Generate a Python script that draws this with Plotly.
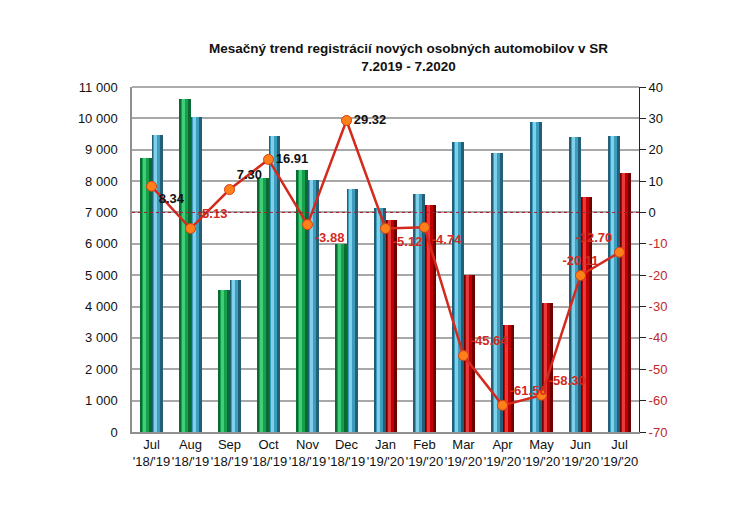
import plotly.graph_objects as go

months = ["Jul<br>'18/'19", "Aug<br>'18/'19", "Sep<br>'18/'19", "Oct<br>'18/'19",
          "Nov<br>'18/'19", "Dec<br>'18/'19", "Jan<br>'19/'20", "Feb<br>'19/'20",
          "Mar<br>'19/'20", "Apr<br>'19/'20", "May<br>'19/'20", "Jun<br>'19/'20",
          "Jul<br>'19/'20"]

# previous year (green) Jul-Dec 2018
prev_months = months[:6]
prev_vals = [8740, 10620, 4530, 8110, 8360, 5990]
# middle year (blue)
mid_vals = [9470, 10050, 4850, 9450, 8040, 7740, 7130, 7590, 9240, 8910, 9900, 9400, 9450]
# current year (red) Jan-Jul 2020
cur_months = months[6:]
cur_vals = [6760, 7240, 5010, 3410, 4120, 7500, 8250]

# year-on-year change in %
pct = [8.34, -5.13, 7.30, 16.91, -3.88, 29.32, -5.12, -4.74, -45.64, -61.50, -58.30, -20.11, -12.70]
pct_labels = ["8.34", "-5.13", "7.30", "16.91", "-3.88", "29.32", "-5.12", "-4.74",
              "-45.64", "-61.50", "-58.30", "-20.11", "-12.70"]

left_ticks = list(range(0, 12000, 1000))
right_ticks = list(range(-70, 50, 10))

# label placement (style)
label_pos = ["bottom right", "top right", "top right", "middle right", "bottom right",
             "middle right", "bottom right", "bottom right", "top right", "top right",
             "top right", "top center", "top left"]

RED = "#d42a1e"
W = 0.29

fig = go.Figure()


def cyl(x, y, offset, width, dark, mid, light):
    offs = offset if isinstance(offset, list) else [offset] * len(x)
    fig.add_trace(go.Bar(x=x, y=y, offset=offs, width=width, marker_color=dark,
                         marker_line_width=0, hoverinfo="skip", showlegend=False))
    fig.add_trace(go.Bar(x=x, y=y, offset=[o + width * 0.15 for o in offs], width=width * 0.62,
                         marker_color=mid, marker_line_width=0, hoverinfo="skip", showlegend=False))
    fig.add_trace(go.Bar(x=x, y=y, offset=[o + width * 0.25 for o in offs], width=width * 0.22,
                         marker_color=light, marker_line_width=0, hoverinfo="skip", showlegend=False))


cyl(prev_months, prev_vals, -W, W, "#0b6a33", "#16a04c", "#3fcf78")
cyl(months, mid_vals, [0.0] * 6 + [-W] * 7, W, "#245f78", "#3e9dbd", "#7fd0ea")
cyl(cur_months, cur_vals, 0.0, W, "#6e0000", "#c00000", "#e83a3a")

# zero line of the percentage axis
fig.add_shape(type="line", xref="paper", x0=0, x1=1, yref="y2", y0=0, y1=0,
              line=dict(color="#a02030", width=1, dash="dot"), layer="above")

fig.add_trace(go.Scatter(
    x=months, y=pct, yaxis="y2", mode="lines+markers+text",
    line=dict(color=RED, width=2.5),
    marker=dict(size=10, color="#ff7f1a", line=dict(color="#d4400e", width=1)),
    text=pct_labels, textposition=label_pos,
    textfont=dict(family="Liberation Sans", size=13, weight="bold",
                  color=["#111111" if v > 0 else RED for v in pct]),
    showlegend=False, cliponaxis=False))

right_text = [("<span style='color:#c0282a'>%d</span>" % v) if v < 0 else str(v) for v in right_ticks]

fig.update_layout(
    width=745, height=515,
    margin=dict(l=132, r=106, t=87, b=83),
    paper_bgcolor="white", plot_bgcolor="white",
    barmode="overlay", bargap=0,
    separators=". ",
    font=dict(family="Liberation Sans", size=13, color="#111111"),
    xaxis=dict(type="category", range=[-0.5, 12.5], showgrid=False,
               showline=True, linecolor="#909090", linewidth=1.5, mirror=False,
               ticks="", tickangle=0, tickfont=dict(size=13)),
    yaxis=dict(range=[0, 11000], tickvals=left_ticks, tickformat=",d",
               showgrid=True, gridcolor="#a8a8a8", gridwidth=1.5,
               showline=True, linecolor="#909090", linewidth=1.5,
               ticks="", ticklabelstandoff=10, zeroline=False, tickfont=dict(size=13)),
    yaxis2=dict(range=[-70, 40], overlaying="y", side="right",
                tickvals=right_ticks, ticktext=right_text,
                showgrid=False, showline=True, linecolor="#222222", linewidth=1,
                ticks="outside", ticklen=6, tickcolor="#222222", zeroline=False,
                tickfont=dict(size=13)),
    annotations=[dict(
        text="<b>Mesačný trend registrácií nových osobných automobilov v SR<br>7.2019 - 7.2020</b>",
        xref="paper", yref="paper", x=0.545, y=1.085, xanchor="center", yanchor="middle",
        showarrow=False, font=dict(size=13.5, color="#111111"))],
)
# top frame
fig.add_shape(type="line", xref="paper", yref="paper", x0=0, x1=1, y0=1, y1=1,
              line=dict(color="#909090", width=1.5))

fig.write_html("out.html")
